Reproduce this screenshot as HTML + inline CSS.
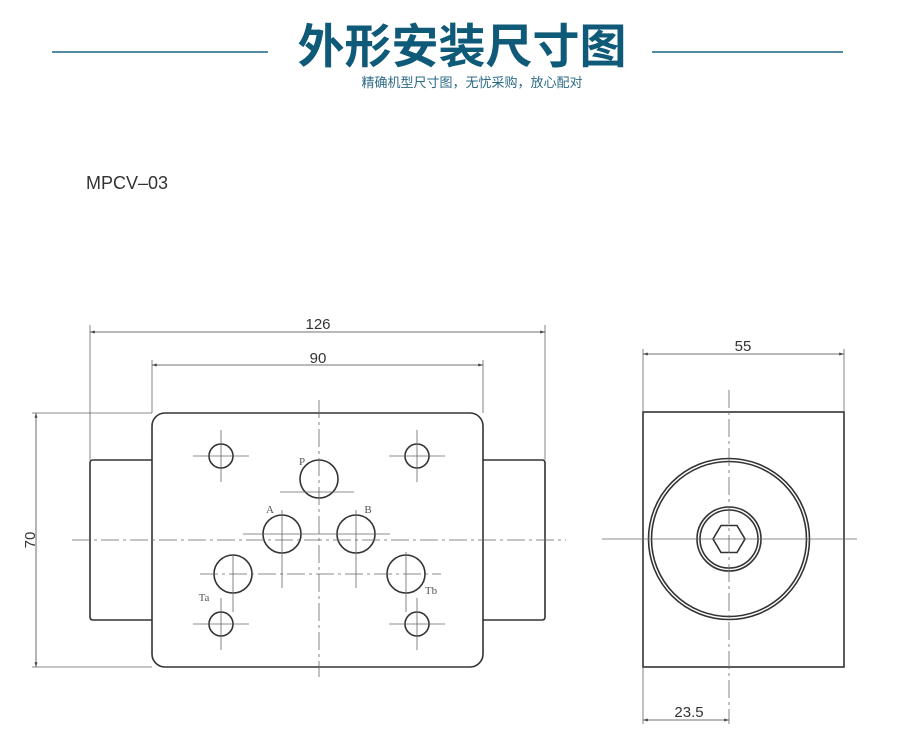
<!DOCTYPE html>
<html><head><meta charset="utf-8"><style>
html,body{margin:0;padding:0;background:#fff;}
svg{display:block;}
</style></head><body>
<svg width="909" height="749" viewBox="0 0 909 749" xmlns="http://www.w3.org/2000/svg">
<defs>
<marker id="ar" viewBox="0 0 10 10" refX="10" refY="5" markerWidth="8" markerHeight="6" orient="auto-start-reverse"><path d="M0,2 L10,5 L0,8 z" fill="#444"/></marker>
</defs>
<line x1="52" y1="52" x2="268" y2="52" stroke="#1a6585" stroke-width="1.5"/>
<line x1="652" y1="52" x2="843" y2="52" stroke="#1a6585" stroke-width="1.5"/>
<text x="462" y="63" text-anchor="middle" font-family="'Liberation Sans','Noto Sans CJK SC',sans-serif" font-size="47" font-weight="bold" fill="#0f5a78">外形安装尺寸图</text>
<text x="472" y="87" text-anchor="middle" font-family="'Liberation Sans','Noto Sans CJK SC',sans-serif" font-size="13" fill="#2a6a85">精确机型尺寸图，无忧采购，放心配对</text>
<text x="86" y="189" font-family="'Liberation Sans',sans-serif" font-size="18" fill="#333">MPCV–03</text>

<g stroke="#333" fill="none" stroke-width="1.6">
<rect x="152" y="413" width="331" height="254" rx="13"/>
<path d="M152,460 H93 Q90,460 90,463 V617 Q90,620 93,620 H152"/>
<path d="M483,460 H542 Q545,460 545,463 V617 Q545,620 542,620 H483"/>
<circle cx="221" cy="456" r="12"/><circle cx="417" cy="456" r="12"/>
<circle cx="221" cy="624" r="12"/><circle cx="417" cy="624" r="12"/>
<circle cx="319" cy="479" r="19"/>
<circle cx="282" cy="534" r="19"/><circle cx="356" cy="534" r="19"/>
<circle cx="233" cy="574" r="19"/><circle cx="406" cy="574" r="19"/>
<rect x="643" y="412" width="201" height="255"/>
<circle cx="729" cy="539" r="80.5"/><circle cx="729" cy="539" r="77.5"/>
<circle cx="729" cy="539" r="32"/><circle cx="729" cy="539" r="29"/>
<polygon points="713,539 721,525.5 737,525.5 745,539 737,552.5 721,552.5"/>
</g>

<g stroke="#666" stroke-width="0.8" fill="none">
<line x1="72" y1="540" x2="566" y2="540" stroke-dasharray="18,4,3,4"/>
<line x1="319" y1="400" x2="319" y2="677" stroke-dasharray="18,4,3,4"/>
<line x1="200" y1="574" x2="441" y2="574" stroke-dasharray="18,4,3,4"/>
<line x1="243" y1="534" x2="390" y2="534"/>
<line x1="282" y1="510" x2="282" y2="588"/><line x1="356" y1="510" x2="356" y2="588"/>
<line x1="280" y1="492" x2="354" y2="492"/>
<line x1="233" y1="555" x2="233" y2="612"/><line x1="406" y1="552" x2="406" y2="612"/>
<line x1="193" y1="456" x2="249" y2="456"/><line x1="221" y1="430" x2="221" y2="482"/>
<line x1="389" y1="456" x2="445" y2="456"/><line x1="417" y1="430" x2="417" y2="482"/>
<line x1="193" y1="624" x2="249" y2="624"/><line x1="221" y1="598" x2="221" y2="650"/>
<line x1="389" y1="624" x2="445" y2="624"/><line x1="417" y1="598" x2="417" y2="650"/>
<line x1="602" y1="539" x2="857" y2="539"/>
<line x1="729" y1="390" x2="729" y2="724" stroke-dasharray="18,4,3,4"/>
<line x1="90" y1="325" x2="90" y2="460"/><line x1="545" y1="325" x2="545" y2="460"/>
<line x1="152" y1="360" x2="152" y2="413"/><line x1="483" y1="360" x2="483" y2="413"/>
<line x1="32" y1="413" x2="152" y2="413"/><line x1="32" y1="667" x2="152" y2="667"/>
<line x1="643" y1="349" x2="643" y2="412"/><line x1="844" y1="349" x2="844" y2="412"/>
<line x1="643" y1="667" x2="643" y2="724"/>
</g>
<g stroke="#444" stroke-width="0.8">
<line x1="90" y1="332" x2="545" y2="332" marker-start="url(#ar)" marker-end="url(#ar)"/>
<line x1="152" y1="365" x2="483" y2="365" marker-start="url(#ar)" marker-end="url(#ar)"/>
<line x1="36" y1="413" x2="36" y2="667" marker-start="url(#ar)" marker-end="url(#ar)"/>
<line x1="643" y1="354" x2="844" y2="354" marker-start="url(#ar)" marker-end="url(#ar)"/>
<line x1="643" y1="720" x2="729" y2="720" marker-start="url(#ar)" marker-end="url(#ar)"/>
</g>
<g font-family="'Liberation Sans',sans-serif" font-size="15" fill="#333" text-anchor="middle">
<text x="318" y="329">126</text>
<text x="318" y="363">90</text>
<text x="743" y="351">55</text>
<text x="689" y="717">23.5</text>
<text transform="translate(35,540) rotate(-90)">70</text>
</g>
<g font-family="'Liberation Serif',serif" font-size="11" fill="#555" text-anchor="middle">
<text x="302" y="465">P</text>
<text x="270" y="513">A</text>
<text x="368" y="513">B</text>
<text x="204" y="601">Ta</text>
<text x="431" y="594">Tb</text>
</g>
</svg>
</body></html>
